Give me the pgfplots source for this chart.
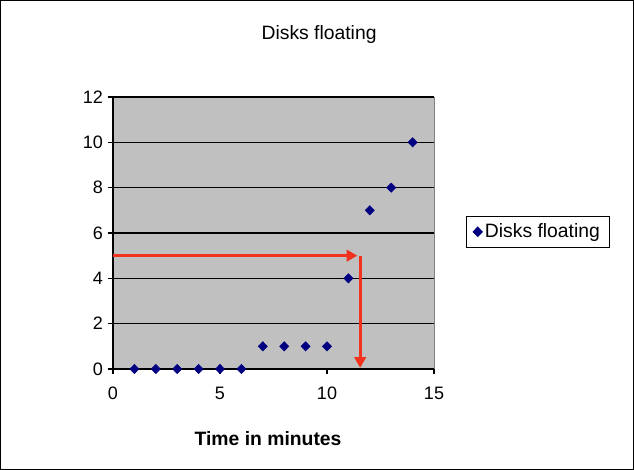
\documentclass[border=0pt]{standalone}
\usepackage{fontspec}
\setmainfont{Liberation Sans}
\usepackage{pgfplots}
\pgfplotsset{compat=1.18}
\usetikzlibrary{arrows.meta}
\definecolor{plotgray}{RGB}{192,192,192}
\definecolor{framegray}{RGB}{128,128,128}
\definecolor{navymark}{RGB}{0,0,128}
\definecolor{arrowred}{RGB}{240,50,30}
\begin{document}
\begin{tikzpicture}
  % page frame, 634 x 470 px at 0.75pt per px
  \useasboundingbox (0pt,0pt) rectangle (475.5pt,352.5pt);
  \draw[black, line width=0.75pt] (0.375pt,0.375pt) rectangle (475.125pt,352.125pt);
  \begin{axis}[
      at={(84.75pt,75.75pt)}, anchor=south west,
      scale only axis,
      width=240.75pt, height=204pt,
      xmin=0, xmax=15, ymin=0, ymax=12,
      xtick={0,5,10,15}, ytick={0,2,...,12},
      axis lines=left,
      axis line style={-, black, line width=0.8pt},
      axis background/.style={fill=plotgray, draw=framegray},
      ymajorgrids,
      grid style={black, line width=0.8pt},
      tick align=outside,
      major tick length=4pt,
      tick style={black, line width=0.8pt},
      tick label style={font=\fontsize{13.5}{15}\selectfont},
      /pgf/number format/assume math mode=true,
      xticklabel style={yshift=-6pt},
      yticklabel style={xshift=0pt},
      legend style={at={(1.0997,0.5625)}, anchor=north west,
        draw=black, fill=white, line width=0.75pt,
        font=\fontsize{14.5}{16}\selectfont, inner xsep=5pt, inner ysep=3.5pt},
      legend cell align=left,
      clip=false,
    ]
    \addplot[only marks, mark=diamond*, mark size=3.5pt,
      mark options={xscale=1.3, fill=navymark, draw=navymark}]
      coordinates {
        (1,0) (2,0) (3,0) (4,0) (5,0) (6,0)
        (7,1) (8,1) (9,1) (10,1)
        (11,4) (12,7) (13,8) (14,10)
      };
    \addlegendentry{Disks floating}
    \addplot[arrowred, line width=2.5pt, forget plot,
      -{Triangle[length=8pt, width=8.5pt]}]
      coordinates {(0,5) (11.42,5)};
    \addplot[arrowred, line width=2.5pt, forget plot,
      -{Triangle[length=8pt, width=8.5pt]}]
      coordinates {(11.55,5) (11.55,0.05)};
    \node[font=\fontsize{14.5}{16}\selectfont] at (axis description cs:0.642,1.228) {Disks floating};
    \node[font=\fontsize{14.5}{16}\selectfont\bfseries] at (axis description cs:0.483,-0.257) {Time in minutes};
  \end{axis}
\end{tikzpicture}
\end{document}
